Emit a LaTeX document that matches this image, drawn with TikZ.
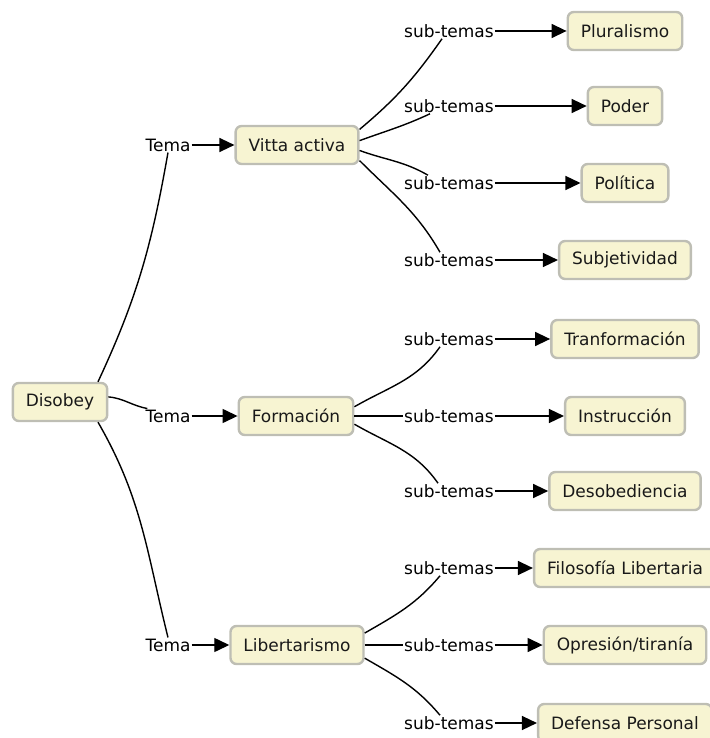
\documentclass[tikz,border=0pt]{standalone}
\usepackage{fontspec}
\setmainfont{DejaVu Sans}
\usetikzlibrary{arrows.meta}
\definecolor{boxfill}{RGB}{247,244,210}
\definecolor{boxline}{RGB}{190,190,180}
\tikzset{
  concept/.style={draw=boxline, fill=boxfill, line width=2.4pt, rounded corners=6pt,
    inner xsep=13pt, minimum height=38pt, text=black!90},
  linkword/.style={inner sep=1pt},
  link/.style={line width=1.4pt},
  linkarrow/.style={line width=1.4pt, -{Triangle[length=15pt,width=14pt]}}
}
\begin{document}
\begin{tikzpicture}[x=1pt,y=-1pt,font=\fontsize{17}{20}\selectfont]
\useasboundingbox (0,0) rectangle (709,738);

\node[concept] (disobey) at (60,402) {Disobey};
\node[linkword] (tema1) at (168,145) {Tema};
\node[linkword] (tema2) at (168,416) {Tema};
\node[linkword] (tema3) at (168,645) {Tema};
\node[concept] (vita) at (297,145) {Vitta activa};
\node[concept] (form) at (296,416) {Formación};
\node[concept] (liber) at (297,645) {Libertarismo};

\node[linkword] (st1) at (449,31) {sub-temas};
\node[linkword] (st2) at (449,106) {sub-temas};
\node[linkword] (st3) at (449,183) {sub-temas};
\node[linkword] (st4) at (449,260) {sub-temas};
\node[linkword] (st5) at (449,339) {sub-temas};
\node[linkword] (st6) at (449,416) {sub-temas};
\node[linkword] (st7) at (449,491) {sub-temas};
\node[linkword] (st8) at (449,568) {sub-temas};
\node[linkword] (st9) at (449,645) {sub-temas};
\node[linkword] (st10) at (449,723) {sub-temas};

\node[concept] (plural) at (625,31) {Pluralismo};
\node[concept] (poder) at (625,106) {Poder};
\node[concept] (politica) at (625,183) {Política};
\node[concept] (subjet) at (625,260) {Subjetividad};
\node[concept] (tranf) at (625,339) {Tranformación};
\node[concept] (instr) at (625,416) {Instrucción};
\node[concept] (desob) at (625,491) {Desobediencia};
\node[concept] (filos) at (625,568) {Filosofía Libertaria};
\node[concept] (opres) at (625,645) {Opresión/tiranía};
\node[concept] (defensa) at (625,723) {Defensa Personal};

\draw[link] (disobey.28) to[out=65,in=-100] (tema1.south);
\draw[link] (disobey.6) to[out=-5,in=170] (tema2.160);
\draw[link] (disobey.-28) to[out=-60,in=104] (tema3.north);
\draw[linkarrow] (tema1.east) -- (vita.west);
\draw[linkarrow] (tema2.east) -- (form.west);
\draw[linkarrow] (tema3.east) -- (liber.west);

\draw[link] (vita.14) to[out=40,in=-125] ([xshift=-7pt]st1.south);
\draw[link] (vita.4) to[out=20,in=-155] ([xshift=-19pt]st2.south);
\draw[link] (vita.-5) to[out=-20,in=150] ([xshift=-21pt]st3.north);
\draw[link] (vita.-14) to[out=-45,in=120] ([xshift=-9pt]st4.north);
\draw[link] (form.9) to[out=30,in=-125] ([xshift=-9pt]st5.south);
\draw[link] (form.east) -- (st6.west);
\draw[link] (form.-8) to[out=-30,in=125] ([xshift=-11pt]st7.north);
\draw[link] (liber.10) to[out=30,in=-130] ([xshift=-9pt]st8.south);
\draw[link] (liber.east) -- (st9.west);
\draw[link] (liber.-11) to[out=-30,in=130] ([xshift=-9pt]st10.north);

\draw[linkarrow] (st1.east) -- (plural.west);
\draw[linkarrow] (st2.east) -- (poder.west);
\draw[linkarrow] (st3.east) -- (politica.west);
\draw[linkarrow] (st4.east) -- (subjet.west);
\draw[linkarrow] (st5.east) -- (tranf.west);
\draw[linkarrow] (st6.east) -- (instr.west);
\draw[linkarrow] (st7.east) -- (desob.west);
\draw[linkarrow] (st8.east) -- (filos.west);
\draw[linkarrow] (st9.east) -- (opres.west);
\draw[linkarrow] (st10.east) -- (defensa.west);
\end{tikzpicture}
\end{document}
